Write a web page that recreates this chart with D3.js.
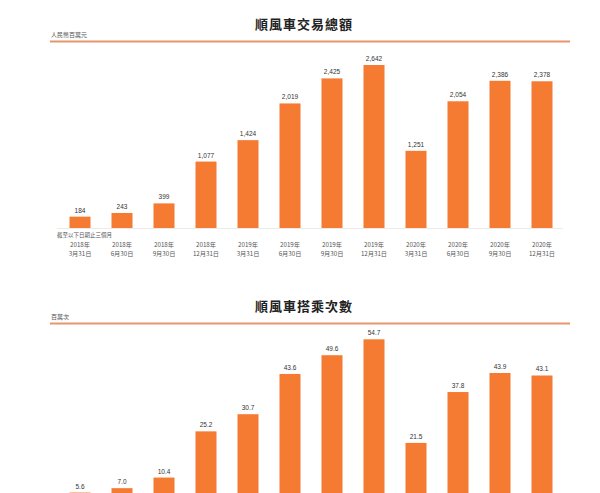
<!DOCTYPE html>
<html><head><meta charset="utf-8">
<script src="https://cdn.jsdelivr.net/npm/d3@7"></script>
<style>body{margin:0;background:#fff;}svg{display:block;}</style>
</head><body>
<svg id="chart" width="600" height="493"></svg>
<script>
const years = ["2018年","2018年","2018年","2018年","2019年","2019年","2019年","2019年","2020年","2020年","2020年","2020年"];
const dates = ["3月31日","6月30日","9月30日","12月31日","3月31日","6月30日","9月30日","12月31日","3月31日","6月30日","9月30日","12月31日"];
const periods = years.map((y,i)=>y+dates[i]);
const gtvValues = [184,243,399,1077,1424,2019,2425,2642,1251,2054,2386,2378];
const gtvLabels = ["184","243","399","1,077","1,424","2,019","2,425","2,642","1,251","2,054","2,386","2,378"];
const rideValues = [5.6,7.0,10.4,25.2,30.7,43.6,49.6,54.7,21.5,37.8,43.9,43.1];
const rideLabels = ["5.6","7.0","10.4","25.2","30.7","43.6","49.6","54.7","21.5","37.8","43.9","43.1"];

const svg = d3.select("#chart");
const orange = "#F57B33";
const x = d3.scaleBand().domain(periods).range([59,563]).paddingInner(0.5).paddingOuter(0.25);

function panel(offset, title, unit, values, labels, yMax, yTop, showX){
  const g = svg.append("g").attr("transform",`translate(0,${offset})`);
  const y = d3.scaleLinear().domain([0,yMax]).range([228,yTop]);
  g.append("text").attr("x",304).attr("y",29).attr("text-anchor","middle")
    .attr("font-family","'Noto Sans CJK TC'").attr("font-weight","bold").attr("font-size",13)
    .attr("letter-spacing",1).attr("fill","#222").text(title);
  g.append("text").attr("x",51).attr("y",36.5)
    .attr("font-family","'Noto Sans CJK TC'").attr("font-size",6).attr("fill","#555").text(unit);
  g.append("line").attr("x1",50).attr("x2",570).attr("y1",41.5).attr("y2",41.5)
    .attr("stroke","#E8956B").attr("stroke-width",2.2);
  g.append("line").attr("x1",57).attr("x2",563).attr("y1",228.5).attr("y2",228.5)
    .attr("stroke","#e6e6e6").attr("stroke-width",0.8);
  g.selectAll("rect.bar").data(values).join("rect").attr("class","bar")
    .attr("x",(d,i)=>x(periods[i])).attr("width",x.bandwidth())
    .attr("y",d=>y(d)).attr("height",d=>y(0)-y(d)).attr("fill",orange);
  g.selectAll("text.val").data(values).join("text").attr("class","val")
    .attr("x",(d,i)=>x(periods[i])+x.bandwidth()/2).attr("y",d=>y(d)-4)
    .attr("text-anchor","middle").attr("font-family","'Liberation Sans',Arial,sans-serif")
    .attr("font-size",6.5).attr("fill","#333").text((d,i)=>labels[i]);
  if(showX){
    g.append("text").attr("x",57).attr("y",236.5)
      .attr("font-family","'Noto Sans CJK TC'").attr("font-size",5.5).attr("fill","#555").text("截至以下日期止三個月");
    const lab = g.selectAll("g.xl").data(periods).join("g").attr("class","xl")
      .attr("transform",d=>`translate(${x(d)+x.bandwidth()/2},0)`);
    lab.append("text").attr("y",247).attr("text-anchor","middle")
      .attr("font-family","'Noto Sans CJK TC'").attr("font-size",6.2).attr("fill","#555")
      .text((d,i)=>years[i]);
    lab.append("text").attr("y",256).attr("text-anchor","middle")
      .attr("font-family","'Noto Sans CJK TC'").attr("font-size",6.2).attr("fill","#555")
      .text((d,i)=>dates[i]);
  }
}
panel(0,"順風車交易總額","人民幣百萬元",gtvValues,gtvLabels,2642,65,true);
panel(282,"順風車搭乘次數","百萬次",rideValues,rideLabels,54.7,57.3,false);
</script>
</body></html>
